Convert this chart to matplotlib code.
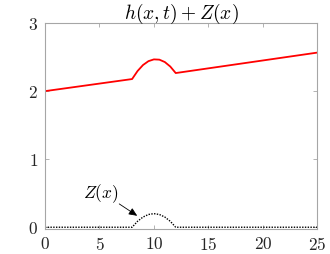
import matplotlib
matplotlib.use("Agg")
import matplotlib.pyplot as plt

plt.rcParams['font.family'] = 'cmr10'
plt.rcParams['mathtext.fontset'] = 'cm'
plt.rcParams['axes.formatter.use_mathtext'] = True

# free surface h + Z (red)
x_surf = [0, 8, 8.5, 9, 9.5, 10, 10.5, 11, 11.5, 12, 25]
y_surf = [2.0, 2.178, 2.296, 2.384, 2.441, 2.467, 2.463, 2.428, 2.362, 2.266, 2.567]

# bottom topography Z (dotted black)
x_bed = [0, 8, 8.5, 9, 9.5, 10, 10.5, 11, 11.5, 12, 25]
z_bed = [0, 0, 0.0875, 0.15, 0.1875, 0.2, 0.1875, 0.15, 0.0875, 0, 0]

xticks = [0, 5, 10, 15, 20, 25]
yticks = [0, 1, 2, 3]

fig = plt.figure(figsize=(3.3, 2.54), dpi=100)
ax = fig.add_axes([0.136, 0.1, 0.826, 0.809])

ax.plot(x_surf, y_surf, color='red', lw=1.3)
ax.plot(x_bed, z_bed, color='black', lw=1.0, ls=(0, (1, 1)))

# label + arrow pointing at the bump
ax.text(5.1, 0.5, '$Z(x)$', fontsize=12.5, ha='center', va='center')
ax.annotate('', xy=(8.47, 0.168), xytext=(6.82, 0.343),
            arrowprops=dict(arrowstyle='-|>,head_length=0.5,head_width=0.22',
                            color='black', lw=0.6, shrinkA=0, shrinkB=0))

ax.set_xlim(0, 25)
ax.set_ylim(-0.02, 3)
ax.set_xticks(xticks)
ax.set_yticks(yticks)
ax.set_title('$h(x,t) + Z(x)$', fontsize=14, pad=3)

for s in ax.spines.values():
    s.set_color('#a6a6a6')
    s.set_linewidth(0.8)
ax.tick_params(direction='in', top=True, right=True, length=3, width=0.6,
               color='#a6a6a6', labelcolor='#262626', labelsize=12.5, pad=5)

fig.savefig('out.png', dpi=100)
